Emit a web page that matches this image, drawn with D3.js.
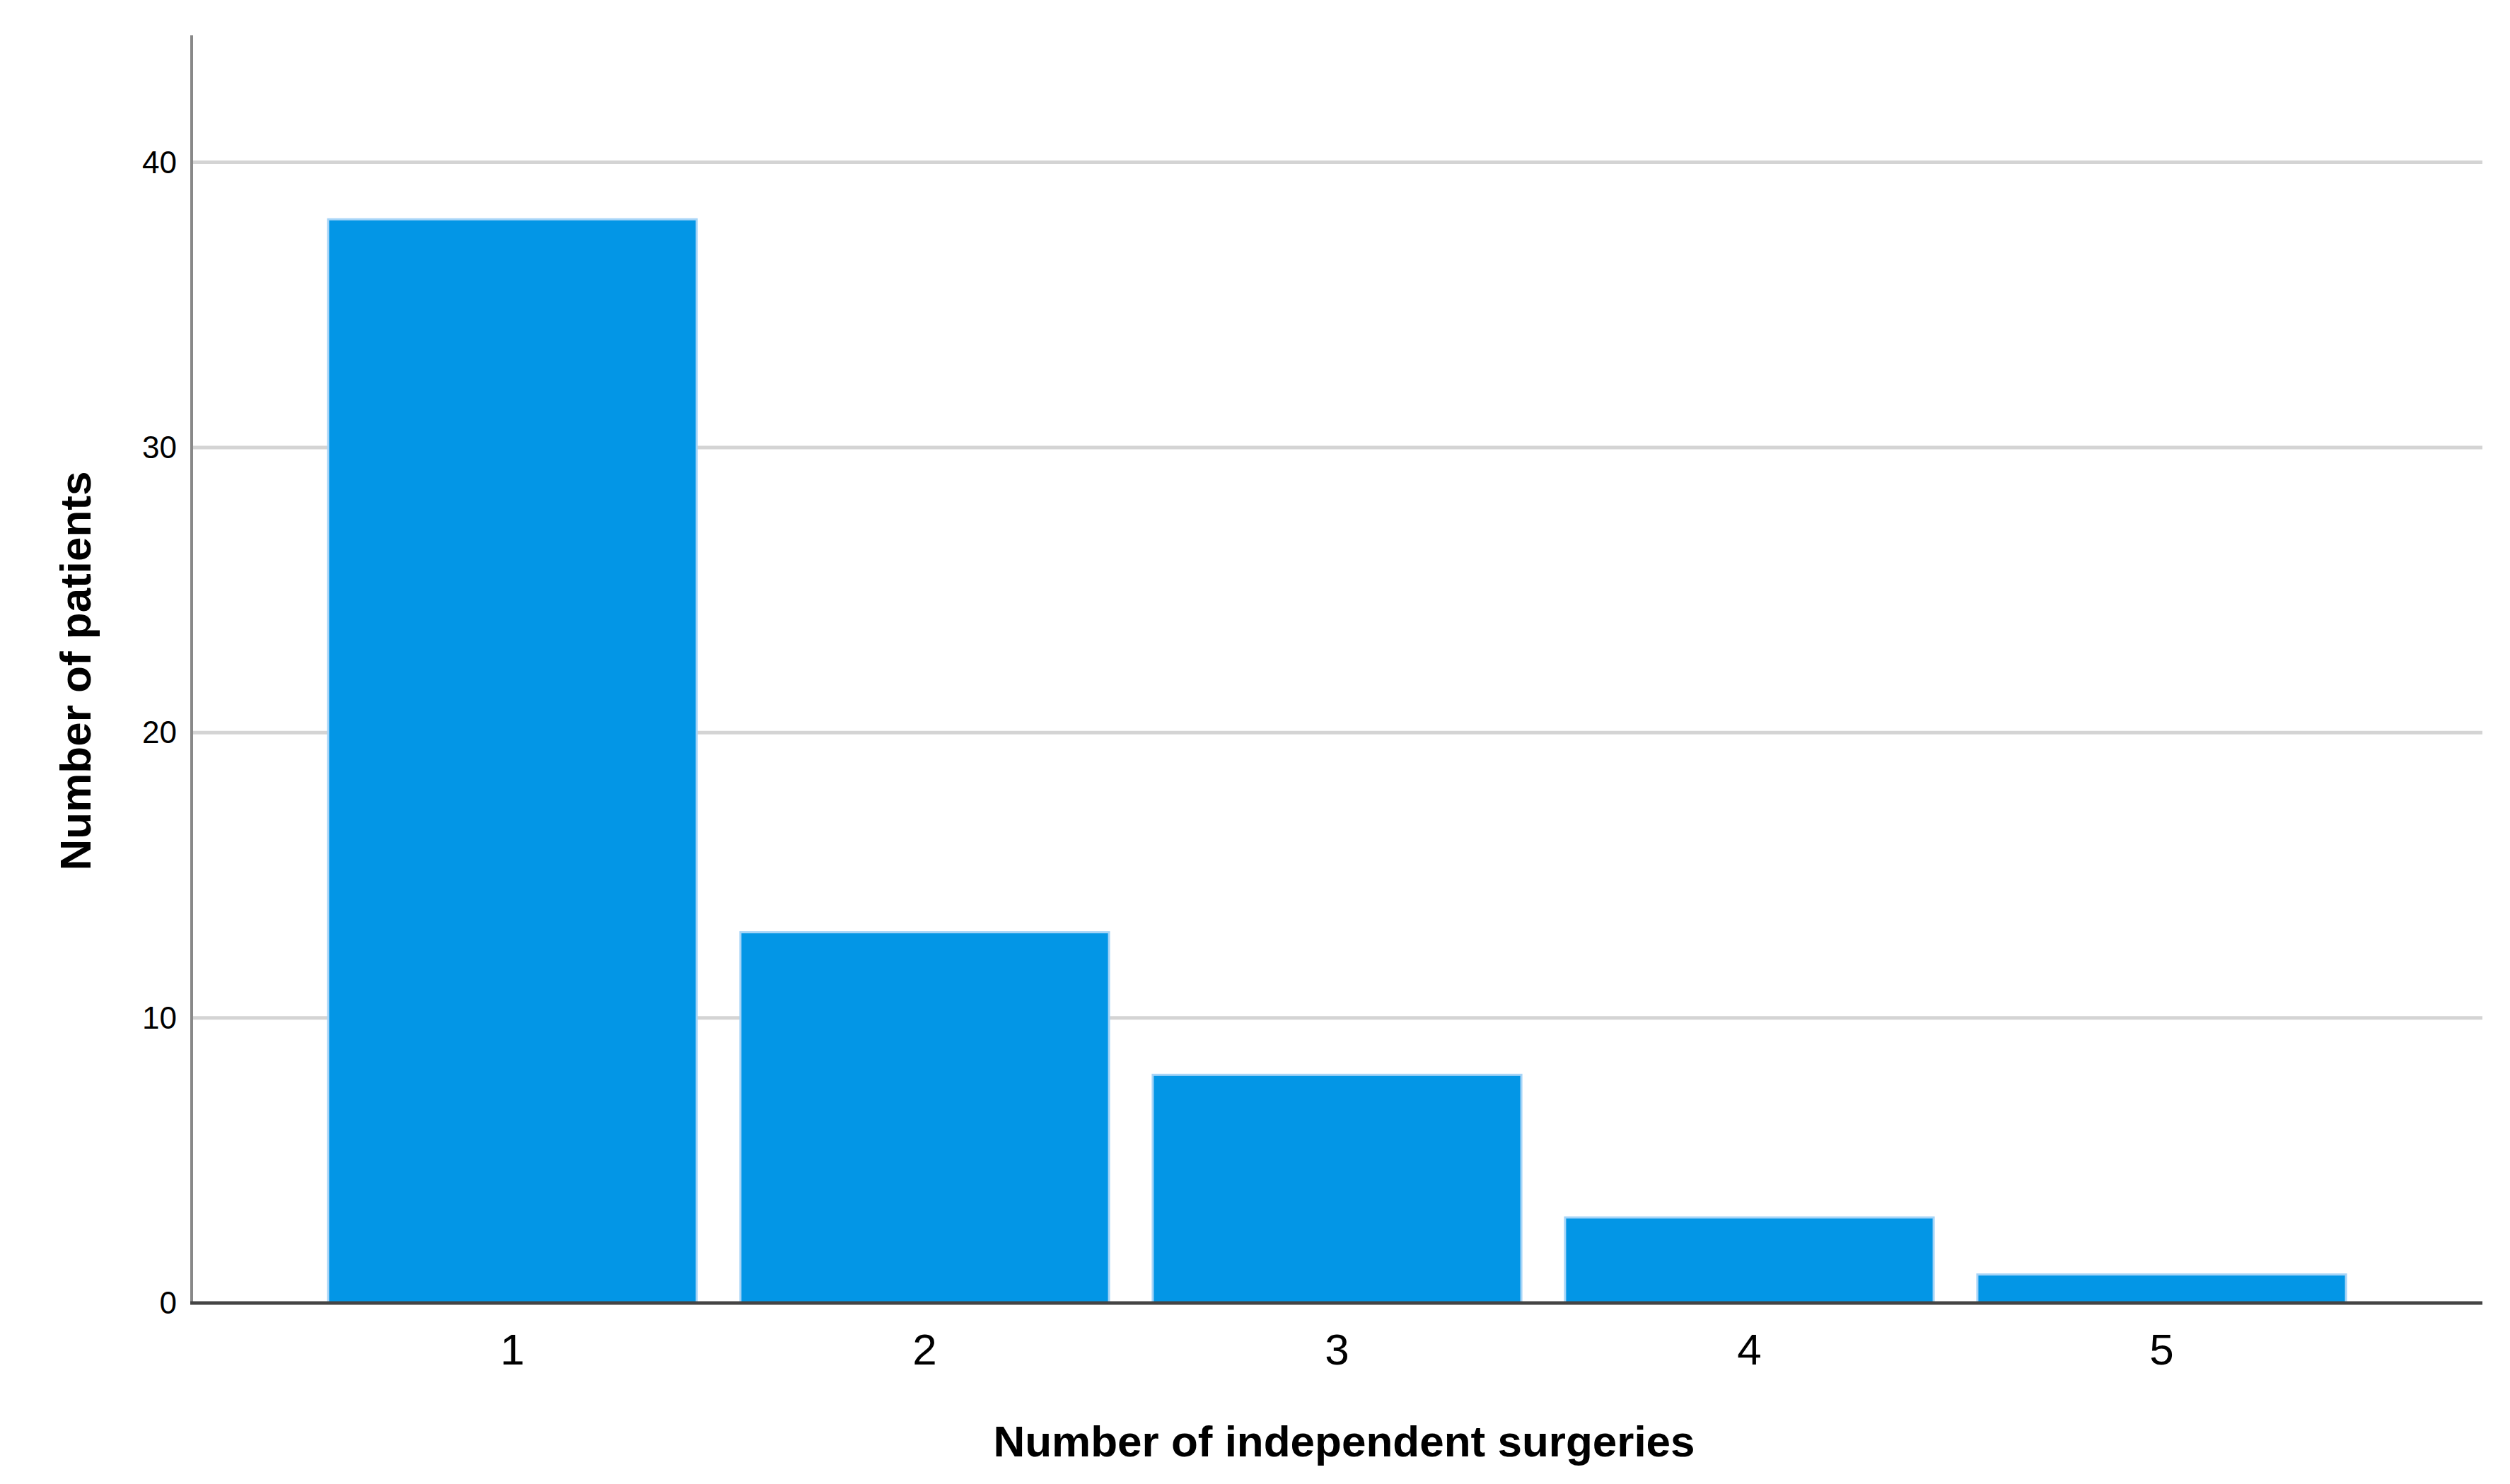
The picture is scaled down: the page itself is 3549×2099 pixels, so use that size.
<!DOCTYPE html>
<html>
<head>
<script src="https://cdn.jsdelivr.net/npm/d3@7/dist/d3.min.js"></script>
<style>body{margin:0;background:#fff}</style>
</head>
<body>
<script>
var categories = ["1", "2", "3", "4", "5"];
var patients = [38, 13, 8, 3, 1];
var yTicks = [0, 10, 20, 30, 40];

var width = 3549, height = 2099;
var plotLeft = 271, plotRight = 3510, plotTop = 50, plotBottom = 1843;
var font = "'Liberation Sans Narrow', 'Arial Narrow', 'Liberation Sans', sans-serif";

var svg = d3.select("body").append("svg")
    .attr("width", width).attr("height", height);

var x = d3.scaleBand().domain(categories).range([433, 3348]).paddingInner(0.106).paddingOuter(0.053);
var y = d3.scaleLinear().domain([0, 44.45]).range([plotBottom, plotTop]);

// gridlines
svg.append("g").selectAll("line").data(yTicks.filter(function(d){ return d > 0; }))
    .enter().append("line")
    .attr("x1", plotLeft).attr("x2", plotRight)
    .attr("y1", function(d){ return y(d); }).attr("y2", function(d){ return y(d); })
    .attr("stroke", "#d4d4d4").attr("stroke-width", 5);

// bars
svg.append("g").selectAll("rect").data(patients).enter().append("rect")
    .attr("x", function(d, i){ return x(categories[i]); })
    .attr("width", x.bandwidth())
    .attr("y", function(d){ return y(d); })
    .attr("height", function(d){ return plotBottom - y(d); })
    .attr("fill", "#0396e6")
    .attr("stroke", "#a6d4f7").attr("stroke-width", 3);

// axis lines
svg.append("line").attr("x1", plotLeft).attr("x2", plotLeft).attr("y1", plotTop).attr("y2", plotBottom)
    .attr("stroke", "#888").attr("stroke-width", 4);
svg.append("line").attr("x1", plotLeft - 2).attr("x2", plotRight).attr("y1", plotBottom).attr("y2", plotBottom)
    .attr("stroke", "#444").attr("stroke-width", 5);

// y tick labels
svg.append("g").selectAll("text").data(yTicks).enter().append("text")
    .attr("x", 250).attr("y", function(d){ return y(d) + 15; })
    .attr("text-anchor", "end")
    .attr("font-family", font).attr("font-size", 44)
    .text(function(d){ return d; });

// x tick labels
svg.append("g").selectAll("text").data(categories).enter().append("text")
    .attr("x", function(d){ return x(d) + x.bandwidth() / 2; })
    .attr("y", 1930)
    .attr("text-anchor", "middle")
    .attr("font-family", font).attr("font-size", 62)
    .text(function(d){ return d; });

// axis titles
svg.append("text").attr("x", (plotLeft + plotRight) / 2 + 10).attr("y", 2060)
    .attr("text-anchor", "middle").attr("font-family", "'Liberation Sans', Arial, sans-serif")
    .attr("font-weight", "bold").attr("font-size", 62)
    .text("Number of independent surgeries");
svg.append("text").attr("transform", "translate(128,949) rotate(-90)")
    .attr("text-anchor", "middle").attr("font-family", "'Liberation Sans', Arial, sans-serif")
    .attr("font-weight", "bold").attr("font-size", 62)
    .text("Number of patients");
</script>
</body>
</html>
